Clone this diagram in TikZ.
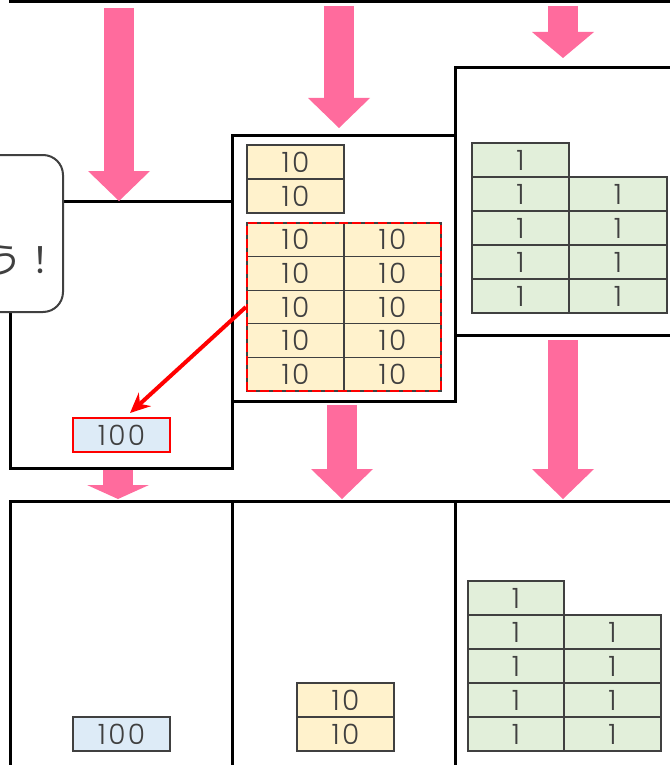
\documentclass[tikz,border=0pt]{standalone}
\usepackage{fontspec}
\setmainfont{Poppins}[UprightFont={* Light}]
\newfontfamily\jpfont{Noto Sans CJK JP}
\usetikzlibrary{arrows.meta,positioning,fit}
\definecolor{pinkarrow}{HTML}{FF6B9D}
\definecolor{tenfill}{HTML}{FFF2CC}
\definecolor{onefill}{HTML}{E2EFDA}
\definecolor{hundredfill}{HTML}{DDEBF7}
\definecolor{ink}{HTML}{404040}
\tikzset{
  panel/.style={draw=black, line width=3, inner sep=0, outer sep=0},
  block/.style={draw=ink, line width=1.2, text=ink, inner sep=0, outer sep=0,
    minimum width=97, minimum height=34, anchor=north west,
    font=\fontsize{28}{28}\selectfont\addfontfeature{LetterSpace=8}},
  ten/.style={block, fill=tenfill},
  one/.style={block, fill=onefill},
  hundred/.style={block, fill=hundredfill},
  bigarrow/.style={draw=pinkarrow, line width=30,
    -{Triangle[length=#1, width=62pt, line width=0pt]}},
  bigarrow/.default=30pt,
}
\begin{document}
\begin{tikzpicture}[x=1pt, y=-1pt]
      \useasboundingbox (0,0) rectangle (669,765);
      % panels
      \node[panel, minimum width=222, minimum height=150, anchor=south west] (tL) at (10,2) {};
      \node[panel, minimum width=223, minimum height=150, anchor=south west] (tM) at (232,2) {};
      \node[panel, minimum width=216, minimum height=150, anchor=south west] (tR) at (455,2) {};
      \node[panel, minimum width=222, minimum height=267, anchor=north west] (A) at (10,201) {};
      \node[panel, minimum width=223, minimum height=266, anchor=north west] (B) at (232,135) {};
      \node[panel, minimum width=216, minimum height=267, anchor=north west] (C) at (455,68) {};
      \node[panel, minimum width=222, minimum height=300, anchor=north west] (D) at (10,501) {};
      \node[panel, minimum width=223, minimum height=300, anchor=north west] (E) at (232,501) {};
      \node[panel, minimum width=216, minimum height=300, anchor=north west] (F) at (455,501) {};
      %
      \node[hundred, draw=red, line width=2] (h1) at (73,418) {100};
      %
      \node[ten] (b1) at (247,145) {10};
      \node[ten, below=0pt of b1] (b2) {10};
      \foreach \r in {0,...,4}
        \foreach \c in {0,1}
          \node[ten, minimum height=33.6] (g\r\c) at (247+97*\c, 223+33.6*\r) {10};
      \node[draw=red, line width=2.2, dash pattern=on 9pt off 4pt, inner sep=0, fit=(g00)(g41)] (grp) {};
      %
      \foreach \r in {0,...,4}
        \node[one] (c1\r) at (472, 143+34*\r) {1};
      \foreach \r in {0,...,3}
        \node[one, minimum width=98] (c2\r) at (569, 177+34*\r) {1};
      %
      \node[hundred] (h2) at (73,717) {100};
      \node[ten] (e1) at (297,683) {10};
      \node[ten, below=0pt of e1] (e2) {10};
      \foreach \r in {0,...,4}
        \node[one, minimum width=96] (f1\r) at (468, 581+34*\r) {1};
      \foreach \r in {0,...,3}
        \node[one] (f2\r) at (564, 615+34*\r) {1};
      %
      \draw[bigarrow] ([xshift=-2pt,yshift=-6pt]tL.south) -- ([xshift=-2pt]A.north);
      \draw[bigarrow] ([xshift=-4.5pt,yshift=-4pt]tM.south) -- ([xshift=-4.5pt,yshift=7pt]B.north);
      \draw[bigarrow=26pt] ([yshift=-4pt]tR.south) -- ([yshift=10pt]C.north);
      \draw[bigarrow=14pt] ([xshift=-3pt,yshift=-2pt]A.south) -- ([xshift=-3pt,yshift=2pt]D.north);
      \draw[bigarrow] ([xshift=-1.5pt,yshift=-4pt]B.south) -- ([xshift=-1.5pt,yshift=2pt]E.north);
      \draw[bigarrow] ([yshift=-5pt]C.south) -- ([yshift=2pt]F.north);
      %
      \draw[red, line width=4, -{Stealth[length=20pt, width=18pt]}] (grp.west) -- ([xshift=8.5pt,yshift=5pt]h1.north);
      %
      \node[draw=ink, line width=2, fill=white, rounded corners=20, inner sep=0, outer sep=0,
        minimum width=263, minimum height=157, anchor=north east] (note) at (63,155) {};
      \node[anchor=base east, text=ink, inner sep=0, font=\jpfont\fontsize{36}{36}\selectfont] (notetext) at (59,273) {う！};
      %
    \end{tikzpicture}
\end{document}
